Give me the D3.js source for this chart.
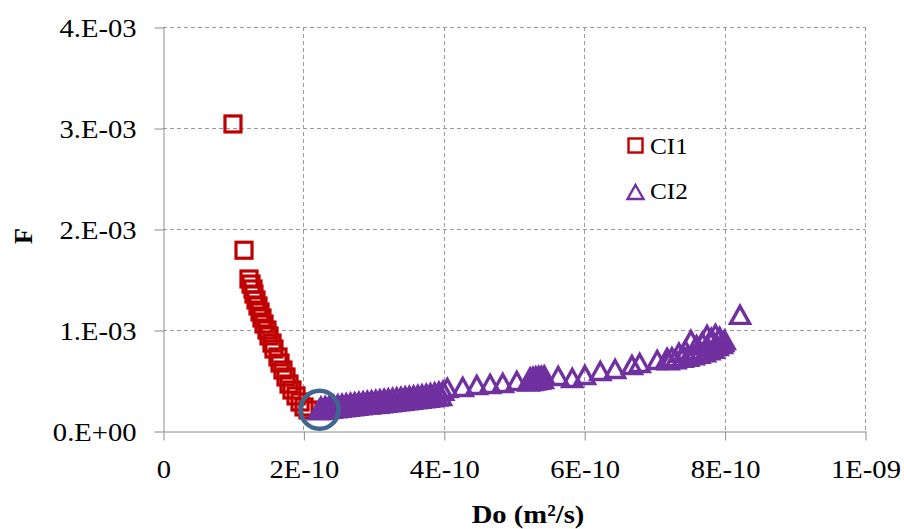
<!DOCTYPE html>
<html>
<head>
<meta charset="utf-8">
<script src="https://cdn.jsdelivr.net/npm/d3@7"></script>
<style>
  html, body { margin: 0; padding: 0; background: #fff; }
  svg { display: block; }
  text { font-family: "Liberation Serif", "Times New Roman", serif; fill: #000; }
</style>
</head>
<body>
<div id="chart"></div>
<script>
// ---------- data ----------
const xTickValues = [0, 2e-10, 4e-10, 6e-10, 8e-10, 1e-9];
const xTickLabels = ["0", "2E-10", "4E-10", "6E-10", "8E-10", "1E-09"];
const yTickValues = [0, 1e-3, 2e-3, 3e-3, 4e-3];
const yTickLabels = ["0.E+00", "1.E-03", "2.E-03", "3.E-03", "4.E-03"];
const seriesNames = ["CI1", "CI2"];

// CI1 (red squares): Do (m²/s), F
const ci1Do = [0.997e-10, 1.154e-10, 1.225e-10, 1.254e-10, 1.282e-10, 1.296e-10, 1.325e-10, 1.353e-10,
  1.382e-10, 1.410e-10, 1.439e-10, 1.481e-10, 1.510e-10, 1.553e-10, 1.581e-10, 1.638e-10, 1.667e-10,
  1.709e-10, 1.752e-10, 1.795e-10, 1.838e-10, 1.895e-10, 1.952e-10, 2.009e-10, 2.066e-10];
const ci1F = [3.04e-3, 1.79e-3, 1.505e-3, 1.455e-3, 1.406e-3, 1.356e-3, 1.297e-3, 1.238e-3,
  1.178e-3, 1.119e-3, 1.059e-3, 1.000e-3, 0.941e-3, 0.871e-3, 0.812e-3, 0.733e-3, 0.673e-3,
  0.604e-3, 0.535e-3, 0.465e-3, 0.406e-3, 0.347e-3, 0.287e-3, 0.238e-3, 0.208e-3];

// CI2 (purple triangles): Do (m²/s), F
const ci2Do = [
  2.22e-10, 2.25e-10, 2.28e-10, 2.31e-10, 2.34e-10, 2.37e-10, 2.40e-10, 2.43e-10, 2.46e-10, 2.49e-10,
  2.52e-10, 2.55e-10, 2.58e-10, 2.61e-10, 2.64e-10, 2.67e-10, 2.70e-10, 2.73e-10, 2.76e-10, 2.79e-10,
  2.82e-10, 2.85e-10, 2.88e-10, 2.91e-10, 2.94e-10, 2.97e-10, 3.00e-10, 3.03e-10, 3.06e-10, 3.09e-10,
  3.12e-10, 3.15e-10, 3.18e-10, 3.21e-10, 3.24e-10, 3.27e-10, 3.30e-10, 3.33e-10, 3.36e-10, 3.39e-10,
  3.42e-10, 3.45e-10, 3.48e-10, 3.51e-10, 3.54e-10, 3.57e-10, 3.60e-10, 3.63e-10, 3.66e-10, 3.69e-10,
  3.72e-10, 3.75e-10, 3.78e-10, 3.81e-10, 3.84e-10, 3.87e-10, 3.90e-10, 3.93e-10, 3.96e-10, 3.99e-10,
  4.05e-10, 4.27e-10, 4.47e-10, 4.66e-10, 4.84e-10, 5.04e-10,
  5.21e-10, 5.23e-10, 5.25e-10, 5.27e-10, 5.29e-10, 5.31e-10, 5.33e-10, 5.35e-10, 5.37e-10, 5.39e-10,
  5.41e-10, 5.43e-10,
  5.63e-10, 5.83e-10, 6.01e-10, 6.23e-10, 6.44e-10, 6.68e-10, 6.79e-10, 7.04e-10, 7.18e-10,
  7.20e-10, 7.25e-10, 7.30e-10, 7.35e-10, 7.40e-10, 7.44e-10, 7.48e-10, 7.52e-10, 7.56e-10, 7.60e-10,
  7.64e-10, 7.68e-10, 7.72e-10, 7.75e-10, 7.78e-10, 7.81e-10, 7.84e-10, 7.87e-10, 7.90e-10, 7.93e-10,
  7.96e-10, 7.98e-10, 8.00e-10,
  8.22e-10];
const ci2F = [
  0.205e-3, 0.240e-3, 0.210e-3, 0.245e-3, 0.215e-3, 0.252e-3, 0.220e-3, 0.258e-3, 0.225e-3, 0.262e-3,
  0.230e-3, 0.268e-3, 0.235e-3, 0.272e-3, 0.240e-3, 0.278e-3, 0.245e-3, 0.283e-3, 0.250e-3, 0.288e-3,
  0.255e-3, 0.293e-3, 0.259e-3, 0.298e-3, 0.262e-3, 0.303e-3, 0.266e-3, 0.308e-3, 0.270e-3, 0.313e-3,
  0.275e-3, 0.318e-3, 0.280e-3, 0.322e-3, 0.284e-3, 0.327e-3, 0.289e-3, 0.332e-3, 0.294e-3, 0.337e-3,
  0.299e-3, 0.341e-3, 0.304e-3, 0.346e-3, 0.309e-3, 0.351e-3, 0.314e-3, 0.356e-3, 0.319e-3, 0.361e-3,
  0.324e-3, 0.367e-3, 0.329e-3, 0.374e-3, 0.334e-3, 0.381e-3, 0.340e-3, 0.390e-3, 0.345e-3, 0.398e-3,
  0.426e-3, 0.436e-3, 0.455e-3, 0.465e-3, 0.475e-3, 0.495e-3,
  0.490e-3, 0.530e-3, 0.495e-3, 0.535e-3, 0.500e-3, 0.540e-3, 0.505e-3, 0.545e-3, 0.510e-3, 0.545e-3,
  0.515e-3, 0.550e-3,
  0.545e-3, 0.525e-3, 0.554e-3, 0.594e-3, 0.614e-3, 0.653e-3, 0.673e-3, 0.703e-3, 0.723e-3,
  0.700e-3, 0.730e-3, 0.710e-3, 0.775e-3, 0.725e-3, 0.800e-3, 0.735e-3, 0.900e-3, 0.750e-3, 0.850e-3,
  0.765e-3, 0.880e-3, 0.780e-3, 0.950e-3, 0.800e-3, 0.920e-3, 0.815e-3, 0.960e-3, 0.840e-3, 0.930e-3,
  0.860e-3, 0.880e-3, 0.900e-3,
  1.15e-3];

// highlighted point (blue circle)
const highlightDo = [2.23e-10];
const highlightF = [0.21e-3];

// ---------- layout ----------
const W = 904, H = 529;
const plot = { left: 163, right: 865, top: 27, bottom: 431 };
const red = "#C00000", purple = "#7030A0", ring = "#3F6690";
const SX = 1.1; // horizontal text stretch of the source image

const svg = d3.select("#chart").append("svg").attr("width", W).attr("height", H);

const x = d3.scaleLinear().domain([0, 1e-9]).range([plot.left, plot.right]);
const y = d3.scaleLinear().domain([0, 4e-3]).range([plot.bottom, plot.top]);

// gridlines
const grid = svg.append("g").attr("stroke", "#9a9a9a").attr("stroke-width", 1).attr("stroke-dasharray", "4,3");
grid.selectAll("line.h").data(yTickValues.filter(v => v > 0)).join("line")
  .attr("x1", plot.left).attr("x2", plot.right)
  .attr("y1", d => Math.round(y(d)) + 0.5).attr("y2", d => Math.round(y(d)) + 0.5);
grid.selectAll("line.v").data(xTickValues.filter(v => v > 0)).join("line")
  .attr("y1", plot.top).attr("y2", plot.bottom)
  .attr("x1", d => Math.round(x(d)) + 0.5).attr("x2", d => Math.round(x(d)) + 0.5);

// axes
const yAxis = d3.axisLeft(y).tickValues(yTickValues)
  .tickFormat((d, i) => yTickLabels[i]).tickSize(9).tickSizeOuter(0);
const gy = svg.append("g").attr("transform", `translate(${plot.left + 0.5},0.5)`).call(yAxis);
gy.select(".domain").attr("stroke", "#8c8c8c");
gy.selectAll(".tick line").attr("stroke", "#8c8c8c");
gy.selectAll(".tick text")
  .attr("x", -27 / SX).attr("dy", "0.35em")
  .attr("transform", `scale(${SX},1)`)
  .style("font-size", "26px").style("font-family", "'Liberation Serif', serif").attr("fill", "#000");

const xAxis = d3.axisBottom(x).tickValues(xTickValues)
  .tickFormat((d, i) => xTickLabels[i]).tickSize(9).tickSizeOuter(0);
const gx = svg.append("g").attr("transform", `translate(0.5,${plot.bottom + 0.5})`).call(xAxis);
gx.select(".domain").attr("stroke", "#8c8c8c");
gx.selectAll(".tick line").attr("stroke", "#8c8c8c");
gx.selectAll(".tick text")
  .attr("y", 47).attr("dy", 0)
  .attr("transform", `scale(${SX},1)`)
  .style("font-size", "26px").style("font-family", "'Liberation Serif', serif").attr("fill", "#000");

// axis titles
svg.append("text")
  .attr("transform", `translate(528,523) scale(${SX},1)`)
  .attr("text-anchor", "middle")
  .style("font-size", "26px").style("font-weight", "bold")
  .text("Do (m²/s)");
svg.append("text")
  .attr("transform", `translate(32,236) rotate(-90)`)
  .attr("text-anchor", "middle")
  .style("font-size", "26px").style("font-weight", "bold")
  .text("F");

// markers
const sq = 16;
const triS = 19, triH = 17;
const triPath = `M0,${-triH / 2}L${triS / 2},${triH / 2}L${-triS / 2},${triH / 2}Z`;

const ci1 = ci1Do.map((d, i) => ({ x: d, y: ci1F[i] }));
const ci2 = ci2Do.map((d, i) => ({ x: d, y: ci2F[i] }));

svg.append("g").selectAll("rect").data(ci1).join("rect")
  .attr("x", d => x(d.x) - sq / 2).attr("y", d => y(d.y) - sq / 2)
  .attr("width", sq).attr("height", sq)
  .attr("fill", "none").attr("stroke", red).attr("stroke-width", 3.2);

svg.append("g").selectAll("path").data(ci2).join("path")
  .attr("transform", d => `translate(${x(d.x)},${y(d.y)})`)
  .attr("d", triPath)
  .attr("fill", "none").attr("stroke", purple).attr("stroke-width", 3.4)
  .attr("stroke-linejoin", "miter");

// highlight circle
svg.append("g").selectAll("circle").data(highlightDo.map((d, i) => ({ x: d, y: highlightF[i] }))).join("circle")
  .attr("cx", d => x(d.x)).attr("cy", d => y(d.y)).attr("r", 19)
  .attr("fill", "none").attr("stroke", ring).attr("stroke-width", 4.5);

// legend
const legend = svg.append("g");
legend.append("rect").attr("x", 635.5 - 7).attr("y", 145.5 - 7).attr("width", 14).attr("height", 14)
  .attr("fill", "none").attr("stroke", red).attr("stroke-width", 2.4);
legend.append("path").attr("transform", "translate(635.5,192)")
  .attr("d", "M0,-7L8,7L-8,7Z")
  .attr("fill", "none").attr("stroke", purple).attr("stroke-width", 2.4);
legend.append("text").attr("transform", `translate(650,154) scale(${SX},1)`)
  .style("font-size", "23px").text(seriesNames[0]);
legend.append("text").attr("transform", `translate(650,199) scale(${SX},1)`)
  .style("font-size", "23px").text(seriesNames[1]);
</script>
</body>
</html>
